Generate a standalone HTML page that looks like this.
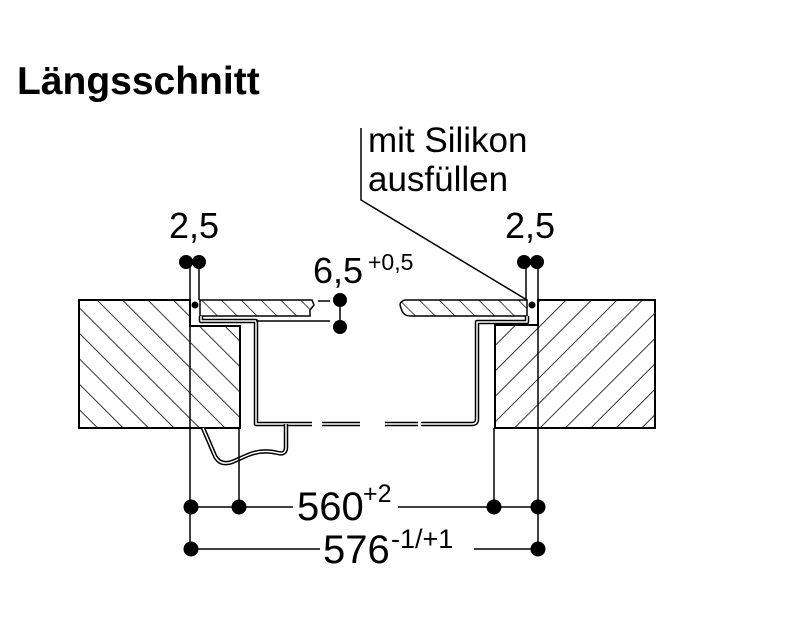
<!DOCTYPE html>
<html><head><meta charset="utf-8"><style>
html,body{margin:0;padding:0;background:#fff;width:800px;height:637px;overflow:hidden}
svg{display:block}
text{font-family:"Liberation Sans",Arial,sans-serif;fill:#000}
</style></head><body>
<svg width="800" height="637" viewBox="0 0 800 637" xmlns="http://www.w3.org/2000/svg">
<defs>
<pattern id="hl" patternUnits="userSpaceOnUse" width="18" height="18" patternTransform="rotate(-45)">
<line x1="0" y1="0" x2="0" y2="18" stroke="#000" stroke-width="1.6"/></pattern>
<pattern id="hr" patternUnits="userSpaceOnUse" width="18" height="18" patternTransform="rotate(45)">
<line x1="0" y1="0" x2="0" y2="18" stroke="#000" stroke-width="1.6"/></pattern>
<pattern id="hp" patternUnits="userSpaceOnUse" width="14" height="14" patternTransform="rotate(-45)">
<line x1="0" y1="0" x2="0" y2="14" stroke="#000" stroke-width="1.4"/></pattern>
</defs>
<text x="17" y="94" font-size="39" font-weight="bold">Längsschnitt</text>
<text x="368" y="152" font-size="35">mit Silikon</text>
<text x="368" y="191" font-size="35">ausfüllen</text>
<text x="169" y="238" font-size="36">2,5</text>
<text x="505" y="238" font-size="36">2,5</text>
<text x="313" y="283" font-size="36">6,5</text>
<text x="368" y="270" font-size="23">+0,5</text>
<path d="M361,128 L361,200 L527,300" fill="none" stroke="#000" stroke-width="1.5"/>
<path d="M79,300 H190 V326 H240 V428 H79 Z" fill="url(#hl)" stroke="#000" stroke-width="2"/>
<path d="M190,326 V428" stroke="#000" stroke-width="1"/>
<path d="M655,300 H538 V325 H495 V428 H655 Z" fill="url(#hr)" stroke="#000" stroke-width="2"/>
<path d="M200,300 H312 L314,305 L310,310 V316 H200 Z" fill="url(#hp)" stroke="#000" stroke-width="1.5"/>
<path d="M527,300 H405 Q398,302 401,308 Q403,316 410,316 H527 Z" fill="url(#hp)" stroke="#000" stroke-width="1.5"/>
<line x1="318" y1="301" x2="330" y2="301" stroke="#000" stroke-width="1.5"/>
<g fill="none" stroke-linejoin="round">
<path d="M201,316 V321 H256 V424 H312" stroke="#000" stroke-width="4.5"/>
<path d="M201,316 V321 H256 V424 H312" stroke="#fff" stroke-width="1.5"/>
<path d="M322,424 H360 M385,424 H418" stroke="#000" stroke-width="4.5"/>
<path d="M322,424 H360 M385,424 H418" stroke="#fff" stroke-width="1.5"/>
<path d="M421,424 H472 Q477,424 477,419 V322 H527 V316" stroke="#000" stroke-width="4.5"/>
<path d="M421,424 H472 Q477,424 477,419 V322 H527 V316" stroke="#fff" stroke-width="1.5"/>
<path d="M203,428 L215,456 Q220,466 232,462 L248,455 Q262,449 278,453 Q286,455 286,447 V424" stroke="#000" stroke-width="4.5"/>
<path d="M203,428 L215,456 Q220,466 232,462 L248,455 Q262,449 278,453 Q286,455 286,447 V424" stroke="#fff" stroke-width="1.5"/>
<path d="M256,321 H330" stroke="#000" stroke-width="1.5"/>
</g>
<circle cx="195" cy="305" r="3.5"/><circle cx="532" cy="305" r="3.5"/>
<g stroke="#000" stroke-width="1.5">
<line x1="190" y1="262" x2="190" y2="549"/>
<line x1="199" y1="262" x2="199" y2="300"/>
<line x1="526" y1="262" x2="526" y2="300"/>
<line x1="538" y1="262" x2="538" y2="549"/>
<line x1="239" y1="428" x2="239" y2="507"/>
<line x1="494" y1="428" x2="494" y2="507"/>
<line x1="340" y1="300" x2="340" y2="327"/>
<line x1="190" y1="507" x2="293" y2="507"/>
<line x1="398" y1="507" x2="538" y2="507"/>
<line x1="190" y1="549" x2="320" y2="549"/>
<line x1="474" y1="549" x2="538" y2="549"/>
</g>
<g>
<circle cx="186" cy="262" r="7"/><circle cx="199" cy="262" r="7"/>
<circle cx="524" cy="262" r="7"/><circle cx="537" cy="262" r="7"/>
<circle cx="340" cy="300" r="7"/><circle cx="340" cy="327" r="7"/>
<circle cx="191" cy="507" r="7.5"/><circle cx="239" cy="507" r="7.5"/>
<circle cx="494" cy="507" r="7.5"/><circle cx="538" cy="507" r="7.5"/>
<circle cx="191" cy="549" r="7.5"/><circle cx="538" cy="549" r="7.5"/>
</g>
<text x="297" y="520" font-size="40">560</text>
<text x="363" y="502" font-size="25">+2</text>
<text x="323" y="563" font-size="40">576</text>
<text x="391" y="548" font-size="27">-1/+1</text>
</svg>
</body></html>
